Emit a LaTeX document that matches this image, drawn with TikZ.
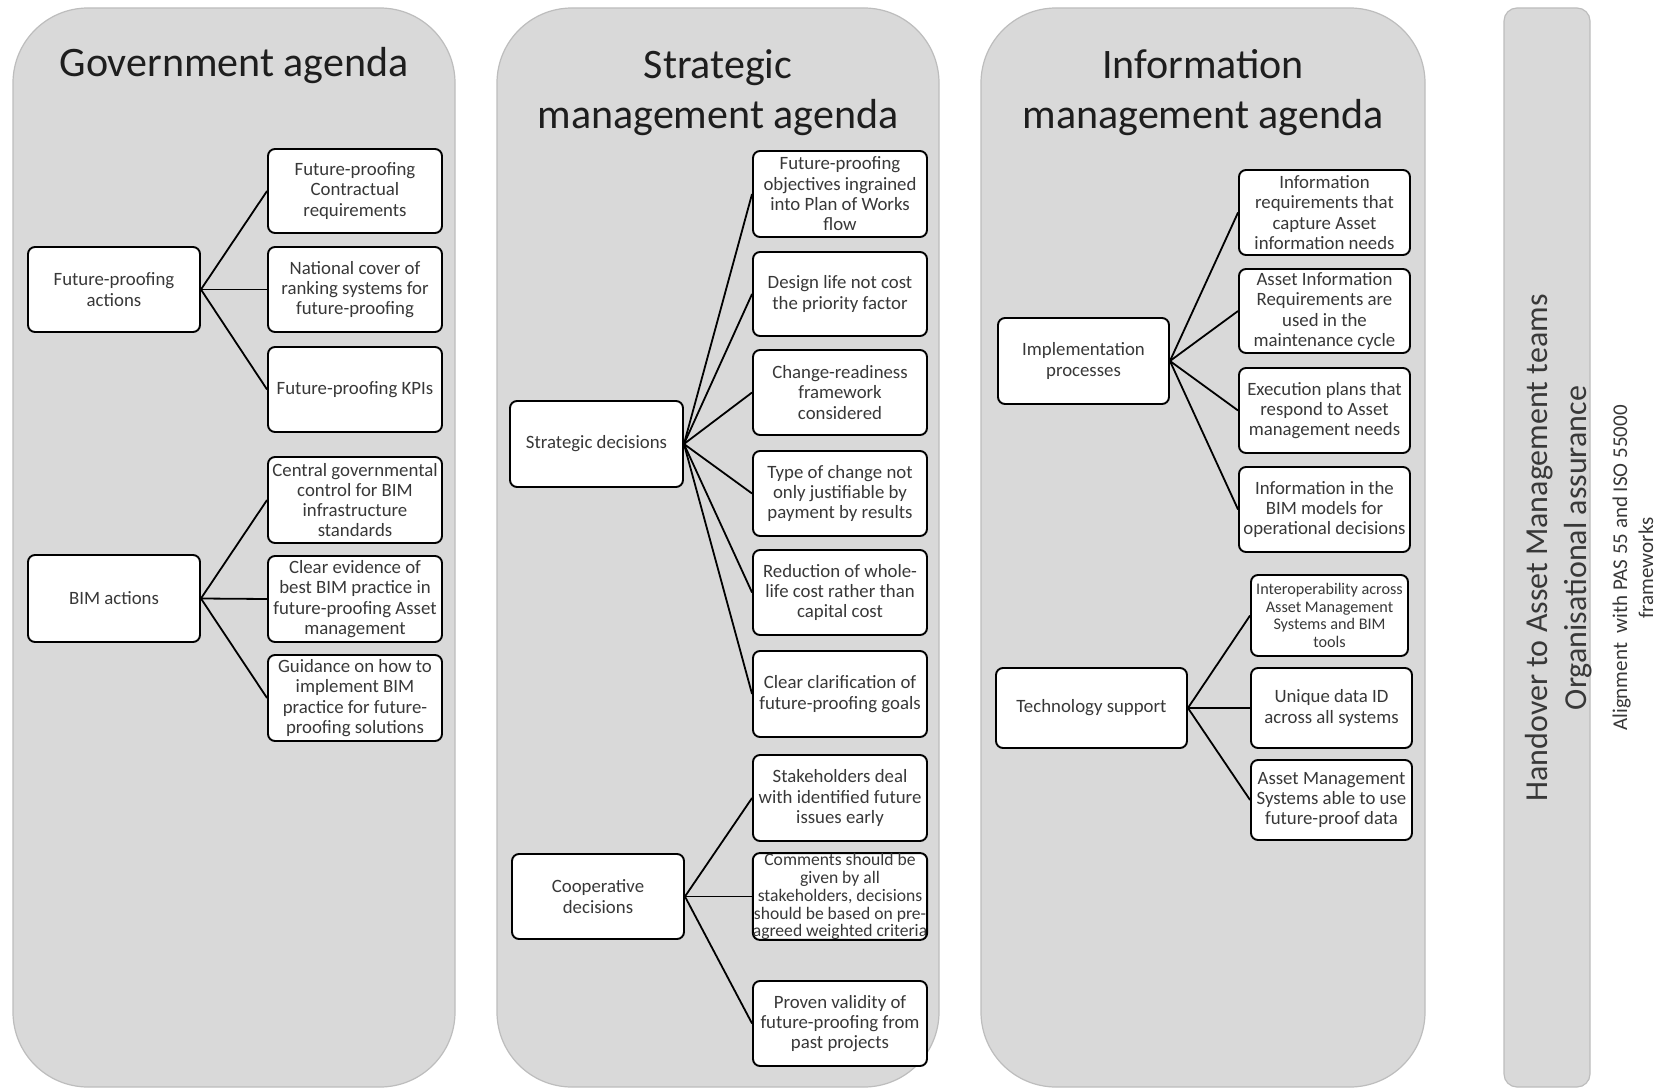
\documentclass[tikz,border=0pt]{standalone}
\usepackage{fontspec}
\setmainfont{Carlito}
\definecolor{panelgrey}{HTML}{D9D9D9}
\definecolor{paneledge}{HTML}{BDBDBD}
\definecolor{boxtext}{HTML}{383838}
\definecolor{titletext}{HTML}{1E1E1E}
% \placebox[options]{name}{x1}{y1}{x2}{y2}{text}: a box given by its corners
\newcommand\placebox[7][]{%
  \node[item,#1,minimum width={#5pt-#3pt},minimum height={#6pt-#4pt}]
    (#2) at ({(#3+#5)/2},{(#4+#6)/2}) {#7};}
\begin{document}
\begin{tikzpicture}[x=1pt,y=-1pt,
  panel/.style={fill=panelgrey,draw=paneledge,line width=1.2pt,rounded corners=75pt},
  slimpanel/.style={fill=panelgrey,draw=paneledge,line width=1.2pt,rounded corners=13pt},
  item/.style={draw=black,line width=1.9pt,fill=white,rounded corners=7pt,
    align=center,inner sep=0pt,text=boxtext,font=\fontsize{18.8}{20.3}\selectfont},
  smallitem/.style={font=\fontsize{17.6}{17.9}\selectfont},
  interitem/.style={font=\fontsize{16.2}{17.7}\selectfont},
  link/.style={line width=1.8pt,draw=black},
  title/.style={anchor=base,inner sep=0pt,text=titletext,font=\fontsize{42}{50}\selectfont},
  sidetext/.style={anchor=base,rotate=90,inner sep=0pt,text=boxtext,font=\fontsize{32}{39}\selectfont},
  notetext/.style={anchor=base,rotate=90,inner sep=0pt,text=boxtext,font=\fontsize{21}{26}\selectfont}
]
\fill[white] (0,0) rectangle (1658,1089);
\useasboundingbox (0,0) rectangle (1658,1089);

% background columns
\draw[panel] (13,8) rectangle (455,1087);
\draw[panel] (497,8) rectangle (939,1087);
\draw[panel] (981,8) rectangle (1425,1087);
\draw[slimpanel] (1504,8) rectangle (1590,1087);

% column headings
\node[title] (govtitle) at (234,77) {Government agenda};
\node[title] (stratA) at (718,79) {Strategic};
\node[title] (stratB) at (718,129) {management agenda};
\node[title] (infoA) at (1203,79) {Information};
\node[title] (infoB) at (1203,129) {management agenda};

% Government agenda
\placebox{fpa}{28}{247}{200}{332}{Future-proofing\\actions}
\placebox{bim}{28}{555}{200}{642}{BIM actions}
\placebox{g1}{268}{149}{442}{233}{Future-proofing\\Contractual\\requirements}
\placebox{g2}{268}{247}{442}{332}{National cover of\\ranking systems for\\future-proofing}
\placebox{g3}{268}{347}{442}{432}{Future-proofing KPIs}
\placebox{g4}{268}{457}{442}{543}{Central governmental\\control for BIM\\infrastructure\\standards}
\placebox{g5}{268}{556}{442}{642}{Clear evidence of\\best BIM practice in\\future-proofing Asset\\management}
\placebox{g6}{268}{655}{442}{741}{Guidance on how to\\implement BIM\\practice for future-\\proofing solutions}
\foreach \t in {g1,g2,g3} \draw[link] (fpa.east) -- (\t.west);
\foreach \t in {g4,g5,g6} \draw[link] (bim.east) -- (\t.west);

% Strategic management agenda
\placebox{sd}{510}{401}{683}{487}{Strategic decisions}
\placebox{cd}{512}{854}{684}{939}{Cooperative\\decisions}
\placebox{s1}{753}{151}{927}{237}{Future-proofing\\objectives ingrained\\into Plan of Works\\flow}
\placebox{s2}{753}{252}{927}{336}{Design life not cost\\the priority factor}
\placebox{s3}{753}{350}{927}{435}{Change-readiness\\framework\\considered}
\placebox{s4}{753}{451}{927}{536}{Type of change not\\only justifiable by\\payment by results}
\placebox{s5}{753}{550}{927}{635}{Reduction of whole-\\life cost rather than\\capital cost}
\placebox{s6}{753}{651}{927}{737}{Clear clarification of\\future-proofing goals}
\placebox{c1}{753}{755}{927}{841}{Stakeholders deal\\with identified future\\issues early}
\placebox[smallitem]{c2}{753}{854}{927}{939}{Comments should be\\given by all\\stakeholders, decisions\\should be based on pre-\\agreed weighted criteria}
\placebox{c3}{753}{981}{927}{1066}{Proven validity of\\future-proofing from\\past projects}
\foreach \t in {s1,s2,s3,s4,s5,s6} \draw[link] (sd.east) -- (\t.west);
\foreach \t in {c1,c2,c3} \draw[link] (cd.east) -- (\t.west);

% Information management agenda
\placebox{ip}{998}{318}{1169}{404}{Implementation\\processes}
\placebox{ts}{996}{668}{1187}{748}{Technology support}
\placebox{i1}{1239}{170}{1410}{255}{Information\\requirements that\\capture Asset\\information needs}
\placebox{i2}{1239}{269}{1410}{353}{Asset Information\\Requirements are\\used in the\\maintenance cycle}
\placebox{i3}{1239}{368}{1410}{453}{Execution plans that\\respond to Asset\\management needs}
\placebox{i4}{1239}{467}{1410}{552}{Information in the\\BIM models for\\operational decisions}
\placebox[interitem]{t1}{1251}{575}{1408}{656}{Interoperability across\\Asset Management\\Systems and BIM\\tools}
\placebox{t2}{1251}{668}{1412}{748}{Unique data ID\\across all systems}
\placebox{t3}{1251}{760}{1412}{840}{Asset Management\\Systems able to use\\future-proof data}
\foreach \t in {i1,i2,i3,i4} \draw[link] (ip.east) -- (\t.west);
\foreach \t in {t1,t2,t3} \draw[link] (ts.east) -- (\t.west);

% handover column and note
\node[sidetext] (handover) at (1547,548) {Handover to Asset Management teams};
\node[sidetext] (assurance) at (1586,548) {Organisational assurance};
\node[notetext] (alignA) at (1627,568) {Alignment~~with PAS 55 and ISO 55000};
\node[notetext] (alignB) at (1653,568) {frameworks};
\end{tikzpicture}
\end{document}
